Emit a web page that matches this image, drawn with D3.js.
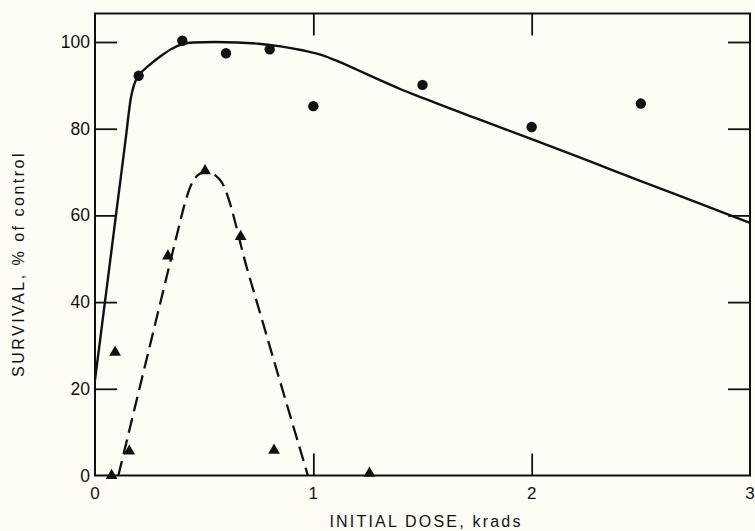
<!DOCTYPE html>
<html>
<head>
<meta charset="utf-8">
<script src="https://cdn.jsdelivr.net/npm/d3@7"></script>
<style>
  html, body { margin: 0; padding: 0; background: #fdfdf6; }
  svg { display: block; }
  text { font-family: "Liberation Sans", Arial, Helvetica, sans-serif; fill: #111; }
</style>
</head>
<body>
<script>
// ---- data ----
const circleDose = [0.2, 0.4, 0.6, 0.8, 1.0, 1.5, 2.0, 2.5];
const circleSurvival = [92.2, 100.3, 97.4, 98.3, 85.2, 90.1, 80.4, 85.8];

const triangleDose = [0.076, 0.092, 0.157, 0.334, 0.504, 0.667, 0.82, 1.257];
const triangleSurvival = [0, 28.4, 5.6, 50.6, 70.3, 55.1, 5.8, 0.5];

// fitted solid curve
const solidDose = [0, 0.05, 0.1, 0.14, 0.165, 0.18, 0.2, 0.25, 0.3, 0.35, 0.4, 0.45, 0.55, 0.65, 0.75, 0.85, 0.95, 1.05, 1.1, 1.2, 1.3, 1.4, 1.5, 1.75, 2.0, 2.25, 2.5, 2.75, 3.0];
const solidSurvival = [22, 41.8, 61.6, 77.4, 87.3, 90.3, 92.2, 94.7, 96.7, 98.4, 99.5, 99.9, 100, 99.9, 99.6, 99.0, 98.1, 96.8, 95.8, 93.6, 91.3, 89.1, 87.1, 82.3, 77.6, 72.8, 67.9, 63.1, 58.3];

// fitted dashed curve
const dashDose = [0.107, 0.2, 0.3, 0.38, 0.41, 0.44, 0.48, 0.515, 0.55, 0.58, 0.7, 0.85, 0.975];
const dashSurvival = [0, 19.3, 40, 56.5, 62.5, 67, 69.6, 70.1, 69.3, 67.7, 47.1, 21.3, 0];

const xTicks = [0, 1, 2, 3];
const yTicks = [0, 20, 40, 60, 80, 100];
const xTitle = "INITIAL DOSE, krads";
const yTitle = "SURVIVAL,  % of control";

// ---- chart ----
const W = 755, H = 531;
const svg = d3.select("body").append("svg").attr("width", W).attr("height", H);

const x = d3.scaleLinear().domain([0, 3]).range([95, 750]);
const y = d3.scaleLinear().domain([0, 100]).range([475.5, 42]);
const yTop = y.invert(13.5);

const ink = "#111";
const tickLen = 22;

// frame
svg.append("rect")
  .attr("x", x(0)).attr("y", y(yTop))
  .attr("width", x(3) - x(0)).attr("height", y(0) - y(yTop))
  .attr("fill", "none").attr("stroke", ink).attr("stroke-width", 2);

// inward ticks via axes
const leftAxis = d3.axisLeft(y).tickValues(yTicks.filter(d => d > 0)).tickSize(-tickLen).tickFormat("");
const rightAxis = d3.axisRight(y).tickValues(yTicks.filter(d => d > 0)).tickSize(-tickLen).tickFormat("");
const topAxis = d3.axisTop(x).tickValues([1, 2]).tickSize(-tickLen).tickFormat("");
const bottomAxis = d3.axisBottom(x).tickValues([1, 2]).tickSize(-tickLen).tickFormat("");

function styleAxis(g) {
  g.select(".domain").remove();
  g.selectAll(".tick line").attr("stroke", ink).attr("stroke-width", 1.8);
}
svg.append("g").attr("transform", `translate(${x(0)},0)`).call(leftAxis).call(styleAxis);
svg.append("g").attr("transform", `translate(${x(3)},0)`).call(rightAxis).call(styleAxis);
svg.append("g").attr("transform", `translate(0,${y(yTop)})`).call(topAxis).call(styleAxis);
svg.append("g").attr("transform", `translate(0,${y(0)})`).call(bottomAxis).call(styleAxis);

// tick labels
svg.append("g").selectAll("text").data(yTicks).join("text")
  .attr("x", 90).attr("y", d => y(d))
  .attr("text-anchor", "end").attr("dominant-baseline", "central")
  .attr("font-size", 17.5)
  .text(d => d);

svg.append("g").selectAll("text").data(xTicks).join("text")
  .attr("x", d => x(d)).attr("y", 499)
  .attr("text-anchor", "middle")
  .attr("font-size", 17)
  .text(d => d);

// titles
svg.append("text")
  .attr("x", 426).attr("y", 527)
  .attr("text-anchor", "middle")
  .attr("font-size", 16).attr("letter-spacing", 2.2)
  .text(xTitle);

svg.append("text")
  .attr("transform", `translate(24,264) rotate(-90)`)
  .attr("text-anchor", "middle")
  .attr("font-size", 16).attr("letter-spacing", 2.5)
  .text(yTitle);

// curves
const solidPts = solidDose.map((d, i) => [d, solidSurvival[i]]);
const dashPts = dashDose.map((d, i) => [d, dashSurvival[i]]);
const line = d3.line().x(d => x(d[0])).y(d => y(d[1])).curve(d3.curveMonotoneX);

svg.append("path").attr("d", line(solidPts))
  .attr("fill", "none").attr("stroke", ink).attr("stroke-width", 2.4);

svg.append("path").attr("d", line(dashPts))
  .attr("fill", "none").attr("stroke", ink).attr("stroke-width", 2.3)
  .attr("stroke-dasharray", "15,7");

// markers
svg.append("g").selectAll("circle").data(circleDose).join("circle")
  .attr("cx", d => x(d)).attr("cy", (d, i) => y(circleSurvival[i]))
  .attr("r", 5.2).attr("fill", ink);

const tri = d3.symbol().type(d3.symbolTriangle).size(60);
svg.append("g").selectAll("path").data(triangleDose).join("path")
  .attr("d", tri)
  .attr("transform", (d, i) => `translate(${x(d)},${y(triangleSurvival[i])})`)
  .attr("fill", ink);
</script>
</body>
</html>
